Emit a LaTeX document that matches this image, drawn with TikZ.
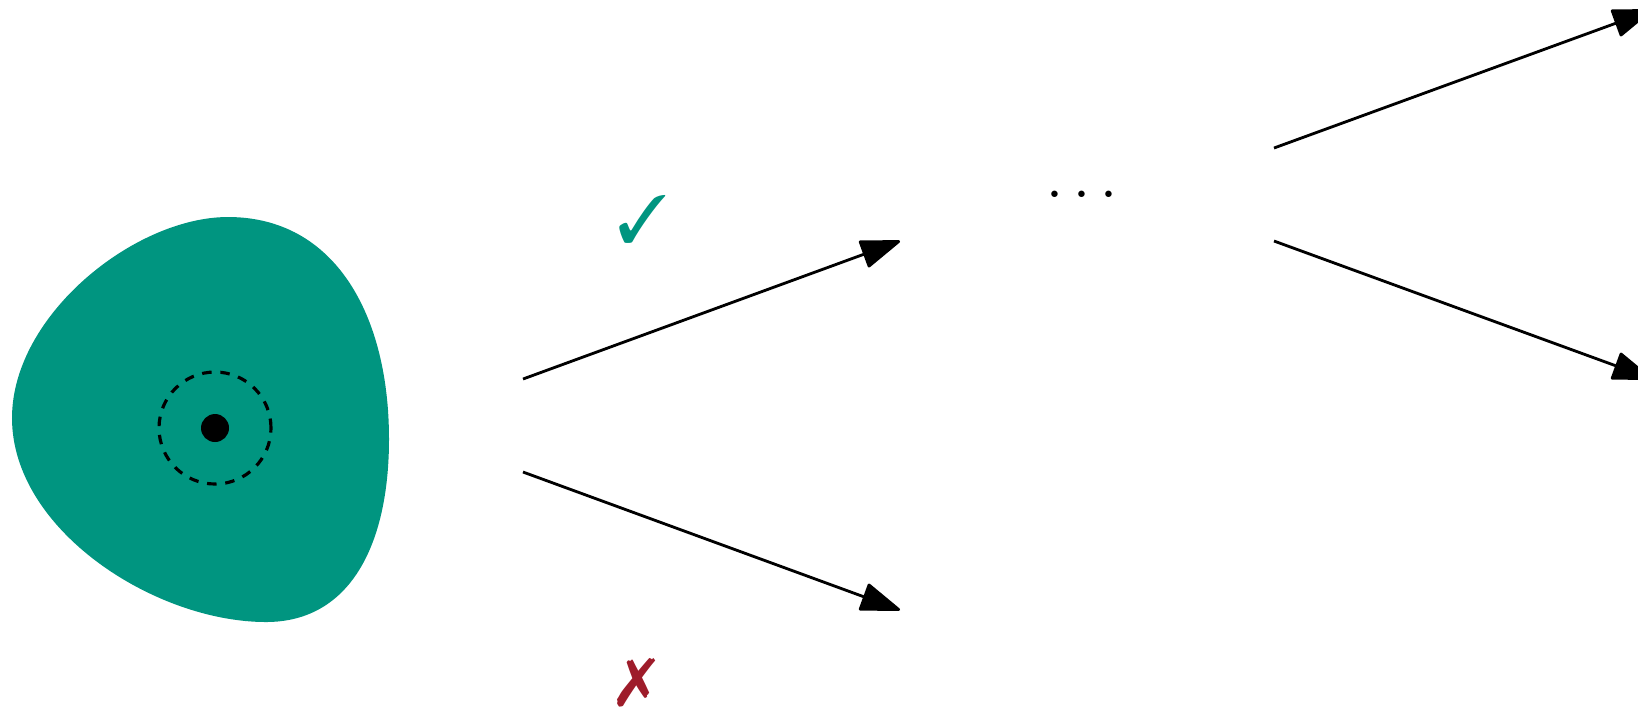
\documentclass[tikz,border=0pt]{standalone}
\usepackage{amsmath,amssymb}
\usepackage{pifont}
\usepackage{xcolor}
\usetikzlibrary{arrows.meta}
\definecolor{blobteal}{RGB}{0,149,128}
\definecolor{crossred}{RGB}{158,28,42}

\begin{document}
\begin{tikzpicture}[
    arrow/.style={-{Triangle[length=4.2mm, width=2.9mm, round]}, line width=0.8pt},
    ring/.style={draw, circle, line width=0.9pt, dash pattern=on 2.7pt off 2.5pt, minimum size=1.12cm, inner sep=0pt},
    centre/.style={fill, circle, minimum size=0.28cm, inner sep=0pt},
    tick/.style={inner sep=0pt, font=\fontsize{19}{20}\selectfont}
]
\useasboundingbox (0,0) rectangle (16.38,-7.06);
\clip (0,0) rectangle (16.38,-7.06);

% region
\fill[blobteal] (0.12,-4.18) .. controls (0.12,-3.15) and (1.35,-2.17) .. (2.28,-2.17)
    .. controls (3.35,-2.17) and (3.89,-3.15) .. (3.89,-4.39)
    .. controls (3.89,-5.45) and (3.50,-6.22) .. (2.66,-6.22)
    .. controls (1.55,-6.22) and (0.12,-5.30) .. (0.12,-4.18) -- cycle;
\node[ring] (ball) at (2.15,-4.28) {};
\node[centre] (pt) at (2.15,-4.28) {};

\coordinate (s1) at (5.23,-3.79);
\coordinate (e1) at (9.00,-2.41);
\coordinate (s2) at (5.23,-4.72);
\coordinate (e2) at (9.00,-6.10);
\coordinate (s3) at (12.74,-1.48);
\coordinate (e3) at (16.52,-0.10);
\coordinate (s4) at (12.74,-2.41);
\coordinate (e4) at (16.52,-3.79);

\draw[arrow] (s1) -- (e1);
\draw[arrow] (s2) -- (e2);
\draw[arrow] (s3) -- (e3);
\draw[arrow] (s4) -- (e4);

\node[tick, text=blobteal] (yes) at (6.43,-2.19) {\ding{51}};
\node[tick, text=crossred] (no) at (6.37,-6.83) {\ding{55}};
\node[inner sep=0pt, font=\fontsize{19}{21}\selectfont] (more) at (10.87,-1.96) {$\cdots$};

\end{tikzpicture}
\end{document}
